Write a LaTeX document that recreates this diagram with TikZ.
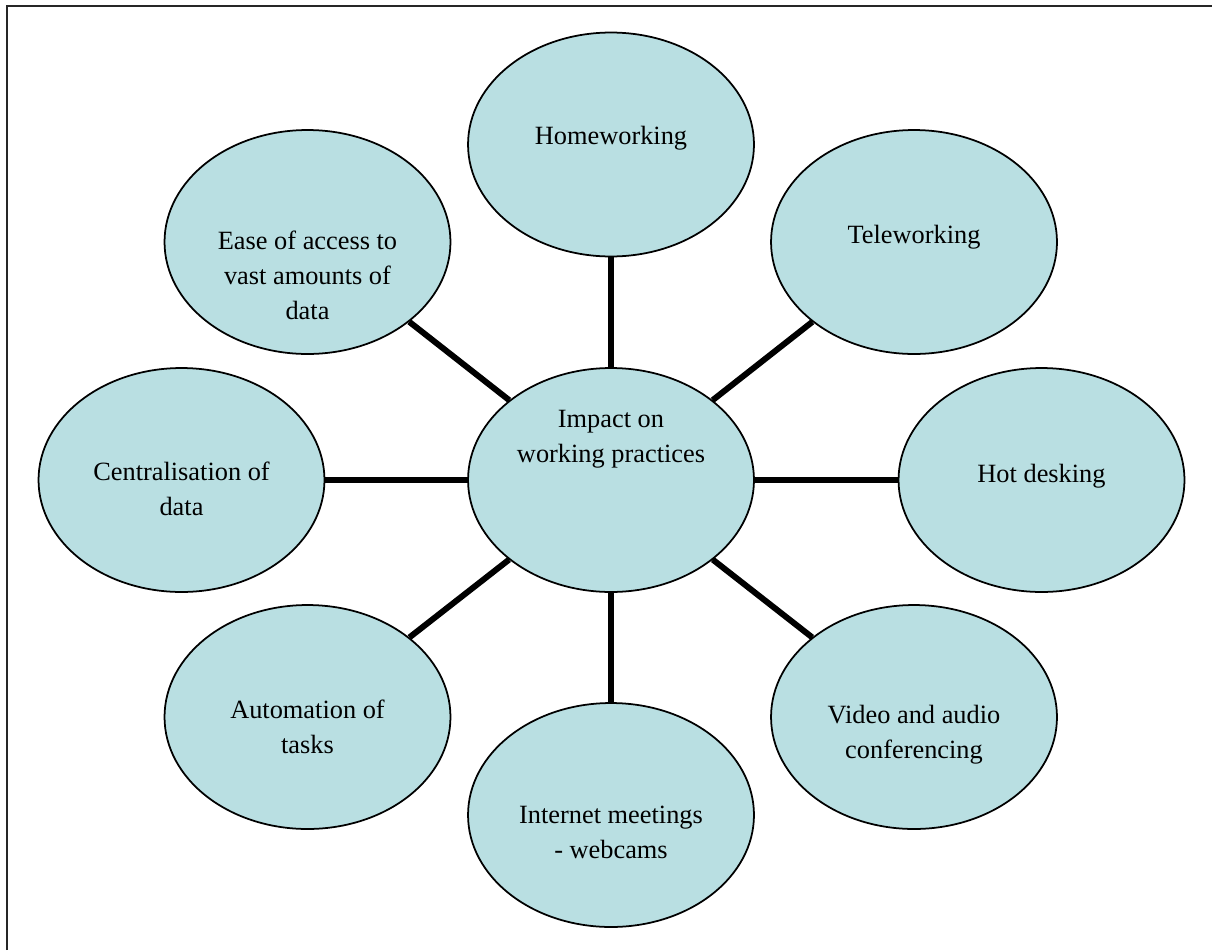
\documentclass[tikz,border=0pt]{standalone}
\usepackage{fontspec}
\setmainfont{Liberation Serif}
\usetikzlibrary{shapes.geometric}
\definecolor{bubblefill}{HTML}{B9DFE2}
% label of one or more centred lines, raised by #1 (pt) without affecting the node size
\newcommand\bubbletext[2]{\raisebox{#1pt}[0pt][0pt]{\begin{tabular}{@{}c@{}}#2\end{tabular}}}
\begin{document}
\begin{tikzpicture}[x=0.02cm,y=-0.02cm,
  bubble/.style={ellipse,draw=black,line width=1pt,fill=bubblefill,
    minimum width=5.72cm,minimum height=4.48cm,inner sep=0pt,
    font=\fontsize{15pt}{20pt}\selectfont},
  spoke/.style={line width=3.4pt,black}]
\useasboundingbox (0,0) rectangle (1212,950);
% page frame (top and left edges)
\draw[line width=1.1pt,black!85] (7,950) -- (7,6) -- (1212,6);

\node[bubble] (hub)  at (611,480)   {\bubbletext{20.2}{Impact on\\working practices}};
\node[bubble] (home) at (611,144.5) {\bubbletext{0.57}{Homeworking}};
\node[bubble] (tele) at (914,242)   {\bubbletext{-0.28}{Teleworking}};
\node[bubble] (hot)  at (1041.5,480){\bubbletext{-0.85}{Hot desking}};
\node[bubble] (vid)  at (914,717)   {\bubbletext{-13.4}{Video and audio\\conferencing}};
\node[bubble] (inet) at (611,815)   {\bubbletext{-14.2}{Internet meetings\\- webcams}};
\node[bubble] (auto) at (307.5,717) {\bubbletext{-10.5}{Automation of\\tasks}};
\node[bubble] (cent) at (181.5,480) {\bubbletext{-10.0}{Centralisation of\\data}};
\node[bubble] (ease) at (307.5,242) {\bubbletext{-23.6}{Ease of access to\\vast amounts of\\data}};

% spokes from the hub to each surrounding bubble
\foreach \n in {home,tele,hot,vid,inet,auto,cent,ease}
  \draw[spoke] (hub) -- (\n);
\end{tikzpicture}
\end{document}
